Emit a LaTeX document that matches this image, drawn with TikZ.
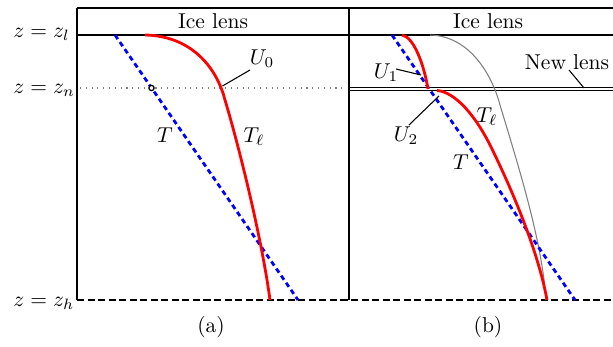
\documentclass[tikz,border=0pt]{standalone}
\usetikzlibrary{calc}
\begin{document}
\begin{tikzpicture}[x=0.465pt,y=-0.465pt,
  frame/.style={line width=0.7pt,black},
  thinframe/.style={line width=0.5pt,black},
  redcurve/.style={line width=1.3pt,red},
  graycurve/.style={line width=0.5pt,gray},
  bluedash/.style={line width=1.3pt,blue,dash pattern=on 2.3pt off 1.7pt},
  bottomdash/.style={line width=0.7pt,black,dash pattern=on 3.3pt off 1.6pt},
  leader/.style={line width=0.5pt,black},
  lbl/.style={inner sep=0pt}]
\useasboundingbox (0,0) rectangle (613,347);
% frame
\coordinate (tl) at (77,8);
\coordinate (tr) at (613,8);
\coordinate (il) at (77,35);
\coordinate (ir) at (613,35);
\coordinate (bl) at (77,300);
\coordinate (br) at (613,300);
\coordinate (mt) at (349,8);
\coordinate (mb) at (349,300);
\draw[frame] (tl) -- (tr);
\draw[frame] (il) -- (ir);
\draw[frame] (tl) -- (bl);
\draw[thinframe] (mt) -- (mb);
\draw[bottomdash] (bl) -- (br);
% z_n dotted
\coordinate (nl) at (80,88);
\coordinate (nr) at (347,88);
\draw[gray,line width=0.5pt,dash pattern=on 0.5pt off 2.2pt] (nl) -- (nr);
% new lens double line
\coordinate (nla) at (349,87.5);
\coordinate (nlb) at (613,87.5);
\coordinate (nlc) at (349,90.5);
\coordinate (nld) at (613,90.5);
\draw[thinframe] (nla) -- (nlb);
\draw[thinframe] (nlc) -- (nld);
% left labels
\node[lbl,anchor=mid west] (zl) at (13,33) {$z=z_l$};
\node[lbl,anchor=mid west] (zn) at (13,89) {$z=z_n$};
\node[lbl,anchor=mid west] (zh) at (13,302) {$z=z_h$};
\node (icea) at (213,21) {Ice lens};
\node (iceb) at (488,21) {Ice lens};
\node (capa) at (211,327) {(a)};
\node (capb) at (488,327) {(b)};
% panel (a)
\coordinate (ta1) at (115,35);
\coordinate (ta2) at (298,300);
\draw[bluedash] (ta1) -- (ta2);
\draw[redcurve] (145,35) .. controls (195,36) and (218,72) .. (225,100)
  .. controls (240,150) and (262,240) .. (270,300);
\coordinate (dot) at (151.5,88);
\draw[black,line width=0.6pt,fill=white] (dot) circle (1.2pt);
\node[lbl] (U0) at (262,59) {$U_0$};
\coordinate (u0p) at (222.5,86);
\coordinate (u0q) at (250,70);
\draw[leader] (u0p) -- (u0q);
\node[lbl] (Ta) at (165,135) {$T$};
\node[lbl] (Tla) at (254,137) {$T_\ell$};
% panel (b)
\draw[graycurve] (430,35) .. controls (470,36) and (492,75) .. (500,105)
  .. controls (518,165) and (542,240) .. (546,300);
\coordinate (tb1) at (392,35);
\coordinate (tb2) at (575,300);
\draw[bluedash] (tb1) -- (tb2);
\draw[redcurve] (402,35) .. controls (414,37) and (424,65) .. (428,89);
\draw[redcurve] (437,90.5) .. controls (455,92) and (475,115) .. (490,145)
  .. controls (510,185) and (538,250) .. (547,300);
\node[lbl] (U1) at (386,73) {$U_1$};
\coordinate (u1o) at (396,69);
\coordinate (u1p) at (421,75);
\draw[leader] (u1o) -- (u1p);
\node[lbl] (U2) at (406,136) {$U_2$};
\coordinate (u2p) at (409,125);
\coordinate (u2q) at (439,96);
\draw[leader] (u2p) -- (u2q);
\node[lbl] (Tlb) at (487,117) {$T_\ell$};
\node[lbl] (Tb) at (461,162) {$T$};
\node[lbl] (NL) at (567,62) {New lens};
\coordinate (nlp) at (569,70);
\coordinate (nlq) at (584,88);
\draw[leader] (nlp) -- (nlq);
\end{tikzpicture}
\end{document}
